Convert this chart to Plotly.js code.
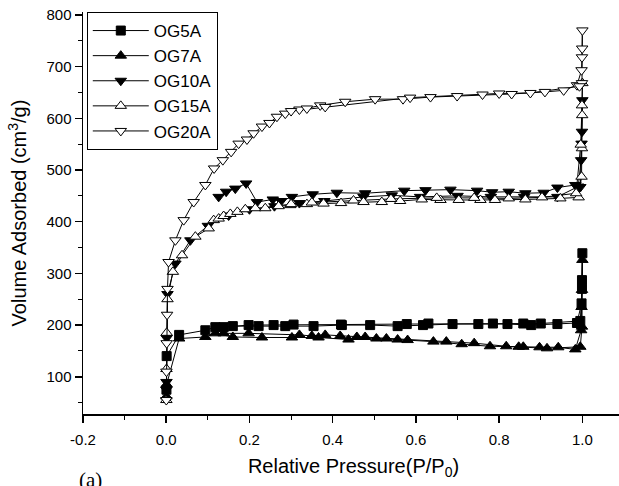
<!DOCTYPE html>
<html>
<head>
<meta charset="utf-8">
<script src="https://cdn.plot.ly/plotly-3.0.1.min.js"></script>
<style>html,body{margin:0;padding:0;overflow:hidden;background:#fff;}</style>
</head>
<body>
<div id="chart"></div>
<script>
// Series names
const seriesNames = ["OG5A", "OG7A", "OG10A", "OG15A", "OG20A"];

// OG5A (adsorption then desorption)
const og5aX = [0.0005, 0.001, 0.031, 0.094, 0.118, 0.16, 0.222, 0.286, 0.354, 0.422, 0.49, 0.556, 0.617, 0.688, 0.75, 0.82, 0.877, 0.94, 0.987, 0.998, 0.999, 1.0,
               0.999, 0.995, 0.9, 0.858, 0.785, 0.63, 0.578, 0.42, 0.306, 0.258, 0.198, 0.138];
const og5aY = [75, 140, 181, 190, 196, 198, 198, 198, 198, 200, 200, 198, 200, 202, 202, 202, 200, 202, 204, 242, 287, 339,
               270, 208, 203, 203, 203, 203, 202, 201, 201, 200, 200, 196];

// OG7A
const og7aX = [0.0005, 0.001, 0.031, 0.094, 0.118, 0.16, 0.23, 0.302, 0.366, 0.438, 0.505, 0.556, 0.642, 0.71, 0.778, 0.847, 0.897, 0.942, 0.983, 0.997, 0.998, 0.999, 1.0,
               0.999, 0.995, 0.915, 0.858, 0.817, 0.74, 0.673, 0.58, 0.529, 0.478, 0.458, 0.418, 0.382, 0.35, 0.32, 0.198, 0.138];
const og7aY = [62, 85, 174, 177, 184, 177, 176, 176, 176, 172, 174, 172, 168, 163, 159, 158, 157, 157, 153, 190, 235, 268, 326,
               197, 158, 155, 158, 159, 165, 168, 171, 174, 177, 177, 179, 181, 179, 181, 184, 184];

// OG10A
const og10aX = [0.0003, 0.0006, 0.001, 0.003, 0.022, 0.058, 0.1, 0.15, 0.2, 0.26, 0.32, 0.38, 0.474, 0.542, 0.61, 0.7, 0.78, 0.86, 0.94, 0.99, 0.997, 0.998, 0.999, 1.0,
                0.995, 0.983, 0.94, 0.907, 0.863, 0.823, 0.783, 0.747, 0.683, 0.623, 0.572, 0.478, 0.41, 0.352, 0.302, 0.276, 0.256, 0.218, 0.192, 0.166, 0.144, 0.126];
const og10aY = [75, 90, 175, 260, 319, 364, 392, 412, 424, 430, 436, 440, 448, 451, 448, 450, 448, 448, 448, 468, 519, 551, 574, 635,
                467, 471, 466, 456, 455, 458, 457, 460, 462, 461, 460, 455, 456, 453, 448, 440, 443, 438, 474, 464, 458, 448];

// OG15A
const og15aX = [0.0003, 0.0006, 0.001, 0.003, 0.016, 0.038, 0.07, 0.102, 0.114, 0.126, 0.138, 0.154, 0.171, 0.19, 0.214, 0.238, 0.27, 0.298, 0.338, 0.378, 0.42, 0.474, 0.518, 0.562, 0.614, 0.659, 0.703, 0.755, 0.79, 0.863, 0.947, 0.991, 0.998, 0.999, 0.9995, 1.0,
                0.999, 0.996, 0.985, 0.903, 0.823, 0.74, 0.65, 0.54, 0.45, 0.35, 0.3];
const og15aY = [55, 115, 185, 250, 303, 335, 371, 387, 403, 406, 411, 415, 419, 424, 426, 426, 430, 432, 434, 435, 436, 438, 438, 440, 443, 442, 442, 442, 442, 443, 445, 447, 487, 542, 606, 668,
                625, 549, 455, 447, 445, 446, 446, 444, 441, 437, 434];

// OG20A
const og20aX = [0.0002, 0.0005, 0.001, 0.002, 0.003, 0.0056, 0.022, 0.042, 0.066, 0.094, 0.115, 0.136, 0.156, 0.174, 0.194, 0.21, 0.23, 0.248, 0.266, 0.286, 0.32, 0.338, 0.37, 0.43, 0.502, 0.569, 0.635, 0.699, 0.76, 0.83, 0.91, 0.955, 0.987, 0.998, 0.999, 0.9995, 1.0,
                0.999, 0.993, 0.875, 0.8, 0.586, 0.382, 0.3];
const og20aY = [55, 110, 165, 220, 270, 322, 364, 403, 438, 471, 503, 519, 535, 551, 559, 571, 584, 591, 603, 609, 617, 619, 625, 632, 637, 637, 641, 643, 646, 647, 651, 654, 664, 693, 718, 735, 770,
                668, 662, 649, 648, 640, 622, 614];

const xTickVals = [-0.2, 0.0, 0.2, 0.4, 0.6, 0.8, 1.0];
const xTickText = ["-0.2", "0.0", "0.2", "0.4", "0.6", "0.8", "1.0"];
const yTickVals = [100, 200, 300, 400, 500, 600, 700, 800];

const xs = [og5aX, og7aX, og10aX, og15aX, og20aX];
const ys = [og5aY, og7aY, og10aY, og15aY, og20aY];
const symbols = ["square", "triangle-up", "triangle-down", "triangle-up", "triangle-down"];
const fills = ["#000", "#000", "#000", "#fff", "#fff"];
const sizes = [9, 10, 10, 10, 10];

const traces = seriesNames.map((n, i) => ({
  x: xs[i], y: ys[i], name: n, type: "scatter", mode: "lines+markers",
  line: {color: "#000", width: 1},
  marker: {symbol: symbols[i], size: sizes[i], color: fills[i], line: {color: "#000", width: 1}}
}));

const sans = "Liberation Sans, Arial, sans-serif";
const axisFont = {family: sans, size: 15, color: "#000"};

const layout = {
  width: 630, height: 486,
  margin: {l: 83, r: 6, t: 12, b: 72},
  paper_bgcolor: "#fff", plot_bgcolor: "#fff",
  font: axisFont,
  showlegend: true,
  legend: {x: 0.007, y: 1, xanchor: "left", yanchor: "top", bordercolor: "#000", borderwidth: 1,
           bgcolor: "#fff", font: {family: sans, size: 17, color: "#000"},
           itemwidth: 56, tracegroupgap: 0},
  xaxis: {
    range: [-0.2, 1.1], showgrid: false, zeroline: false, showline: true, linecolor: "#000", linewidth: 1.5,
    ticks: "outside", ticklen: 7, tickwidth: 1.5, tickcolor: "#000",
    tickvals: xTickVals, ticktext: xTickText, tickfont: axisFont, ticklabelstandoff: 4,
    minor: {dtick: 0.1, ticks: "outside", ticklen: 4, tickwidth: 1, tickcolor: "#000", showgrid: false},
    title: {text: "Relative Pressure(P/P<sub>0</sub>)", font: {family: sans, size: 20, color: "#000"}, standoff: 12}
  },
  yaxis: {
    range: [28, 805.6], showgrid: false, zeroline: false, showline: true, linecolor: "#000", linewidth: 1.5,
    ticks: "outside", ticklen: 7, tickwidth: 1.5, tickcolor: "#000",
    tickvals: yTickVals, tickfont: axisFont, ticklabelstandoff: 0,
    minor: {dtick: 50, ticks: "outside", ticklen: 4, tickwidth: 1, tickcolor: "#000", showgrid: false},
    title: {text: "Volume Adsorbed (cm<sup>3</sup>/g)", font: {family: sans, size: 20, color: "#000"}, standoff: 14}
  },
  annotations: [{
    text: "(a)", xref: "paper", yref: "paper", x: 0.013, y: -0.13, xanchor: "center", yanchor: "top",
    showarrow: false, font: {family: "Liberation Serif, Times New Roman, serif", size: 21, color: "#000"}
  }]
};

Plotly.newPlot("chart", traces, layout, {staticPlot: true, displayModeBar: false});
</script>
</body>
</html>
